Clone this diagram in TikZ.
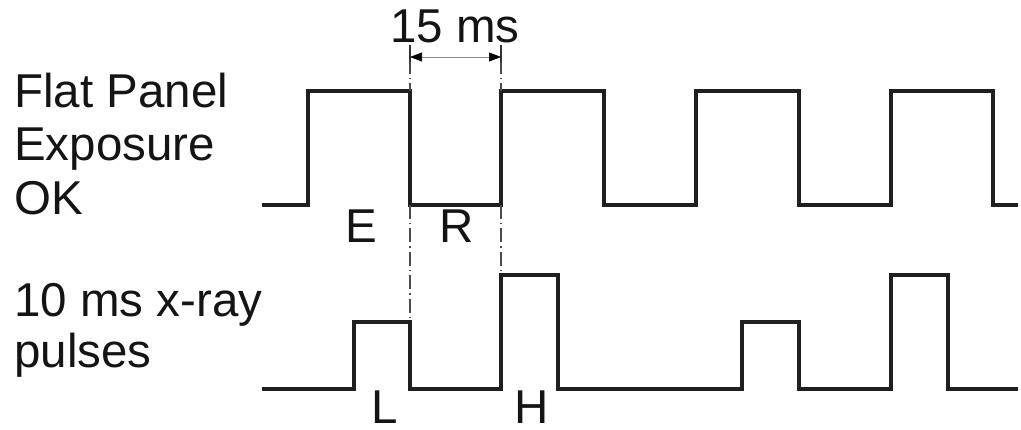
\documentclass[tikz,border=0pt]{standalone}
\usepackage{fontspec}
\setmainfont{Liberation Sans}
\usetikzlibrary{arrows.meta}
\begin{document}
\begin{tikzpicture}[x=1pt,y=-1pt,
  wave/.style={line width=3.2pt, color=black!88, line join=miter},
  lbl/.style={font=\fontsize{47.5}{53}\selectfont, text=black!92, inner sep=0pt},
  dashdot/.style={line width=1.2pt, color=black!70, dash pattern=on 14pt off 4pt on 1.5pt off 4pt},
  dimline/.style={line width=0.6pt, color=black!45},
]
\useasboundingbox (0,0) rectangle (1021,430);
% labels on the left
\node[lbl, anchor=base west] (l1) at (14,108) {Flat Panel};
\node[lbl, anchor=base west] (l2) at (14,161) {Exposure};
\node[lbl, anchor=base west] (l3) at (14,215) {OK};
\node[lbl, anchor=base west] (l4) at (14,317) {10 ms x-ray};
\node[lbl, anchor=base west] (l5) at (14,368) {pulses};
% waveforms
\draw[wave] (262,205) -- (308,205) -- (308,91) -- (410,91) -- (410,205) -- (501,205) -- (501,91)
  -- (604,91) -- (604,205) -- (696,205) -- (696,91) -- (799,91) -- (799,205) -- (891,205)
  -- (891,91) -- (993,91) -- (993,205) -- (1018,205);
\draw[wave] (262,389) -- (354,389) -- (354,322) -- (410,322) -- (410,389) -- (501,389) -- (501,275)
  -- (558,275) -- (558,389) -- (742,389) -- (742,322) -- (799,322) -- (799,389) -- (891,389)
  -- (891,275) -- (948,275) -- (948,389) -- (1018,389);
% dimension marks
\coordinate (ta) at (410,45);
\coordinate (tb) at (501,45);
\coordinate (ba) at (410,322);
\coordinate (bb) at (501,275);
\draw[dashdot] (410,60) -- (410,91);
\draw[dashdot] (501,60) -- (501,91);
\draw[dashdot] (410,205) -- (ba);
\draw[dashdot] (501,205) -- (bb);
\draw[line width=1.2pt, black!80] (ta) -- (410,62);
\draw[line width=1.2pt, black!80] (tb) -- (501,62);
\coordinate (aa) at (410,57);
\coordinate (ab) at (501,57);
\draw[dimline, {Triangle[length=12pt,width=9pt,black]}-{Triangle[length=12pt,width=9pt,black]}] (aa) -- (ab);
\node[lbl, anchor=base] (ms) at (455,43) {15 ms};
% letters
\node[lbl, anchor=base] (E) at (361,243) {E};
\node[lbl, anchor=base] (R) at (457,243) {R};
\node[lbl, anchor=base] (L) at (385,424) {L};
\node[lbl, anchor=base] (H) at (532,424) {H};
\end{tikzpicture}
\end{document}
